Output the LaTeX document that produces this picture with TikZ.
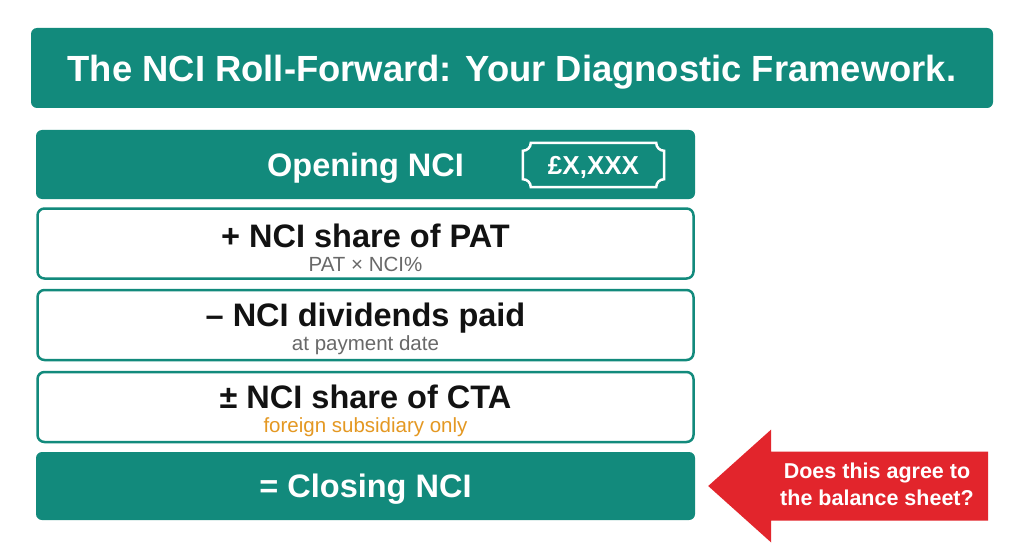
\documentclass[tikz,border=0pt]{standalone}
\usepackage{fontspec}
\setmainfont{Liberation Sans}
\usepackage{xcolor}
\usetikzlibrary{calc}

\definecolor{ncigreen}{RGB}{18,138,124}
\definecolor{alertred}{RGB}{226,37,44}
\definecolor{notegrey}{RGB}{105,105,105}
\definecolor{noteorange}{RGB}{228,152,34}

\newcommand{\notefont}{\mdseries\fontsize{20.5}{22}\selectfont}

\begin{document}
\begin{tikzpicture}[x=1pt, y=1pt,
	fillbox/.style={fill=ncigreen, rounded corners=6pt, text=white, minimum width=659pt, text depth=0pt, font=\bfseries\fontsize{32.5}{34}\selectfont},
	linebox/.style={draw=ncigreen, line width=2.5pt, rounded corners=7pt, fill=white, minimum width=656pt, minimum height=70pt, align=center, text=black!93, font=\bfseries\fontsize{32.5}{34}\selectfont}]
	\def\notch{8};

	\useasboundingbox (0,0) rectangle (1024,558);
	\fill[white] (0,0) rectangle (1024,558);

	\node[fillbox, minimum width=962pt, minimum height=80pt, font=\bfseries\fontsize{36.4}{40}\selectfont] (title) at (512,490) {The NCI Roll-Forward: Your Diagnostic Framework.};

	\node[fillbox, minimum height=69pt] (open) at (365.5,393.5) {Opening NCI};
	\node[text=white, text depth=0pt, font=\bfseries\fontsize{26}{30}\selectfont, minimum width=141pt, minimum height=44pt] (badge) at (593.5,393) {£X,XXX};
	\draw[white, line width=2.5pt] ($(badge.north west)+(\notch,0)$) -- ($(badge.north east)+(-\notch,0)$)
		arc[start angle=180, end angle=270, radius=\notch] -- ($(badge.south east)+(0,\notch)$)
		arc[start angle=90, end angle=180, radius=\notch] -- ($(badge.south west)+(\notch,0)$)
		arc[start angle=0, end angle=90, radius=\notch] -- ($(badge.north west)+(0,-\notch)$)
		arc[start angle=270, end angle=360, radius=\notch] -- cycle;

	\node[linebox] (pat) at (365.5,314.5) {\rule{0pt}{32pt}+ NCI share of PAT\\[-10pt]{\notefont\color{notegrey}PAT × NCI\%}};
	\node[linebox] (div) at (365.5,233) {\rule{0pt}{32pt}– NCI dividends paid\\[-10pt]{\notefont\color{notegrey}at payment date}};
	\node[linebox] (cta) at (365.5,151) {\rule{0pt}{32pt}± NCI share of CTA\\[-10pt]{\notefont\color{noteorange}foreign subsidiary only}};
	\node[fillbox, minimum height=68pt] (close) at (365.5,72) {= Closing NCI};

	\coordinate (tip) at ($(close.east)+(13,0)$);
	\fill[alertred] (tip) -- ++(63,56.5) -- ++(0,-22) -- ++(217,0) -- ++(0,-69) -- ++(-217,0) -- ++(0,-22) -- cycle;
	\node[text=white, font=\bfseries\fontsize{21.5}{27}\selectfont, align=center] (ask) at (877,73.5) {Does this agree to\\the balance sheet?};
\end{tikzpicture}
\end{document}
